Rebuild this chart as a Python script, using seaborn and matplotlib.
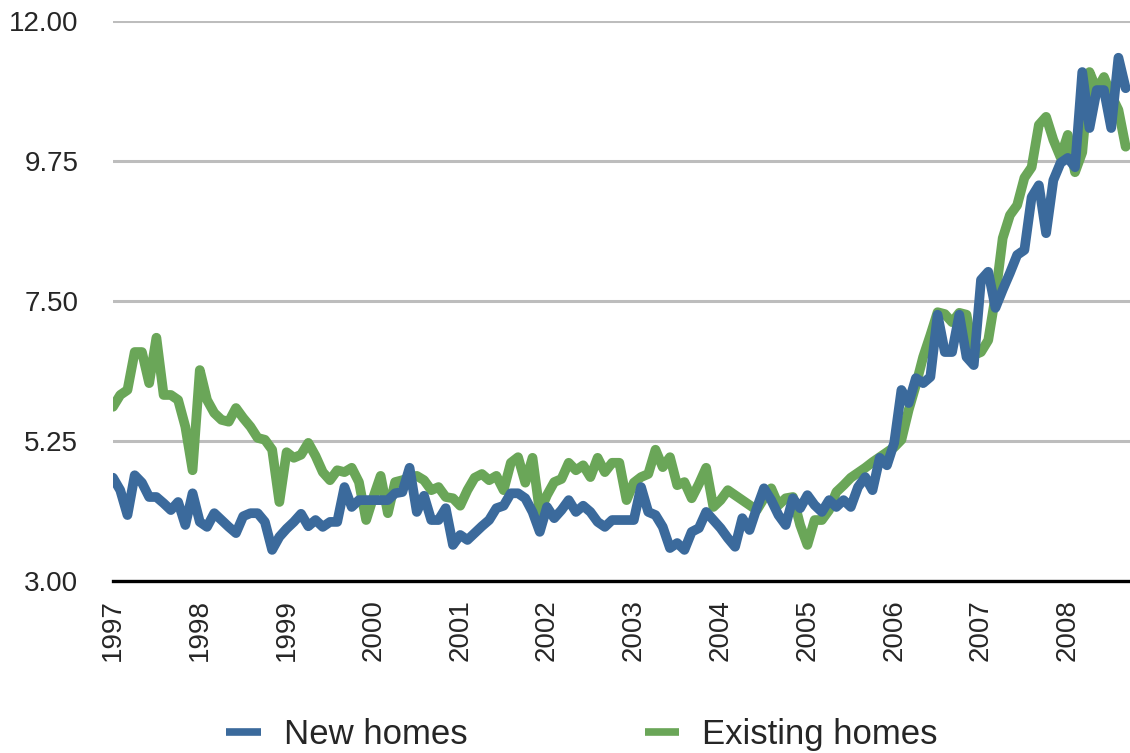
import numpy as np
import pandas as pd
import seaborn as sns
import matplotlib.pyplot as plt

# Monthly series, Jan 1997 .. Sep 2008
years = list(range(1997, 2009))
y_ticks = [3.00, 5.25, 7.50, 9.75, 12.00]

new_homes = [
    4.66, 4.46, 4.06, 4.70, 4.58, 4.35, 4.35, 4.25, 4.14, 4.27, 3.90, 4.41,
    3.95, 3.87, 4.09, 3.98, 3.87, 3.77, 4.04, 4.09, 4.09, 3.95, 3.50, 3.71,
    3.84, 3.95, 4.08, 3.88, 3.98, 3.87, 3.95, 3.95, 4.51, 4.19, 4.30, 4.30,
    4.30, 4.30, 4.30, 4.41, 4.43, 4.82, 4.11, 4.37, 3.98, 3.98, 4.17, 3.58,
    3.74, 3.66, 3.77, 3.88, 3.98, 4.17, 4.21, 4.41, 4.41, 4.33, 4.11, 3.79,
    4.19, 4.01, 4.14, 4.30, 4.11, 4.21, 4.11, 3.95, 3.87, 3.98, 3.98, 3.98,
    3.98, 4.51, 4.11, 4.06, 3.87, 3.53, 3.61, 3.50, 3.79, 3.85, 4.11, 3.98,
    3.85, 3.69, 3.55, 4.01, 3.82, 4.17, 4.49, 4.30, 4.06, 3.90, 4.33, 4.17,
    4.38, 4.22, 4.11, 4.30, 4.19, 4.30, 4.19, 4.51, 4.67, 4.46, 4.98, 4.86,
    5.22, 6.07, 5.86, 6.26, 6.18, 6.28, 7.28, 6.68, 6.68, 7.28, 6.60, 6.47,
    7.84, 7.97, 7.39, 7.68, 7.95, 8.24, 8.32, 9.17, 9.36, 8.59, 9.44, 9.72,
    9.80, 9.65, 11.18, 10.28, 10.89, 10.89, 10.28, 11.41, 10.92,
]

existing_homes = [
    5.80, 5.99, 6.07, 6.68, 6.68, 6.18, 6.91, 5.99, 5.99, 5.91, 5.48, 4.78,
    6.39, 5.91, 5.70, 5.59, 5.56, 5.78, 5.62, 5.48, 5.30, 5.27, 5.11, 4.27,
    5.07, 4.98, 5.03, 5.22, 5.01, 4.75, 4.62, 4.78, 4.75, 4.82, 4.59, 3.98,
    4.35, 4.69, 4.09, 4.59, 4.62, 4.66, 4.69, 4.62, 4.46, 4.51, 4.35, 4.33,
    4.21, 4.46, 4.66, 4.72, 4.62, 4.69, 4.46, 4.90, 4.99, 4.58, 4.98, 4.11,
    4.38, 4.59, 4.64, 4.90, 4.78, 4.86, 4.67, 4.98, 4.75, 4.90, 4.90, 4.30,
    4.58, 4.67, 4.72, 5.11, 4.83, 4.99, 4.54, 4.59, 4.33, 4.56, 4.82, 4.19,
    4.30, 4.46, 4.38, 4.30, 4.22, 4.14, 4.33, 4.49, 4.22, 4.33, 4.35, 3.90,
    3.58, 3.98, 3.98, 4.14, 4.43, 4.54, 4.66, 4.74, 4.82, 4.91, 4.99, 5.07,
    5.15, 5.27, 5.75, 6.15, 6.60, 6.95, 7.32, 7.29, 7.16, 7.31, 7.28, 6.63,
    6.68, 6.87, 7.58, 8.51, 8.88, 9.04, 9.48, 9.65, 10.33, 10.46, 10.09, 9.81,
    10.17, 9.57, 9.89, 11.18, 10.89, 11.10, 10.81, 10.57, 9.98,
]

blue = '#3b6a9c'
green = '#6aa658'

t = 1997 + np.arange(len(new_homes)) / 12
df = pd.DataFrame({'t': t, 'new': new_homes, 'existing': existing_homes})

sns.set_style('white')
plt.rcParams['font.family'] = ['Liberation Sans', 'DejaVu Sans']

fig = plt.figure(figsize=(11.3, 7.53), dpi=100)
ax = fig.add_axes([0.1, 0.2284, 0.9, 0.7437])

for v in y_ticks[1:]:
    ax.axhline(v, color='#bdbdbd', lw=2.2, zorder=0)

sns.lineplot(data=df, x='t', y='existing', color=green, lw=7, label='Existing homes', ax=ax)
sns.lineplot(data=df, x='t', y='new', color=blue, lw=7, label='New homes', ax=ax)

ax.set_xlim(1997, 1997 + 140.6 / 12)
ax.set_ylim(3, 12)
ax.set_yticks(y_ticks)
ax.set_yticklabels([f'{v:.2f}' for v in y_ticks], fontsize=20)
ax.set_xticks(years)
ax.set_xticklabels([str(y) for y in years], rotation=90, fontsize=20, va='top')
ax.tick_params(axis='y', length=0, pad=25)
ax.tick_params(axis='x', length=0, pad=13)
ax.set_xlabel('')
ax.set_ylabel('')

for s in ['top', 'right', 'left']:
    ax.spines[s].set_visible(False)
ax.spines['bottom'].set_color('black')
ax.spines['bottom'].set_linewidth(2.4)

h, l = ax.get_legend_handles_labels()
ax.get_legend().remove()
leg = fig.legend(h[::-1], l[::-1], loc='center', bbox_to_anchor=(0.515, 0.025), ncol=2,
                 frameon=False, fontsize=25, handlelength=1.0, handletextpad=0.66,
                 columnspacing=5.1)
for line in leg.get_lines():
    line.set_linewidth(5.5)
    line.set_solid_capstyle('butt')

fig.savefig('out.png', dpi=100)
